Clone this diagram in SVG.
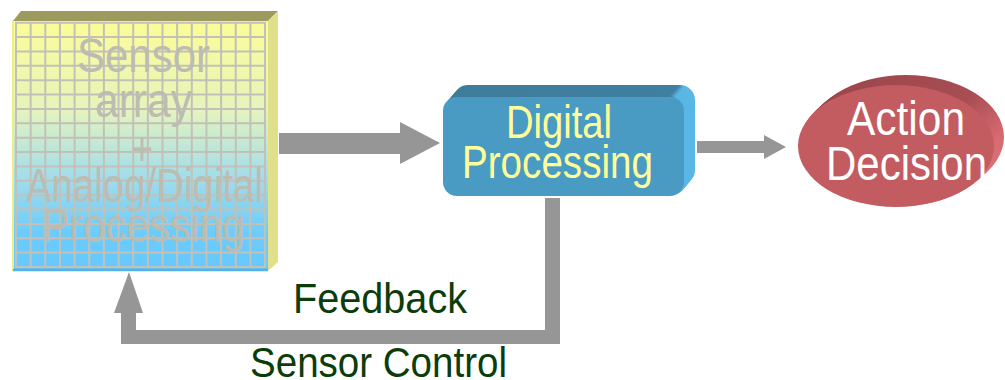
<svg xmlns="http://www.w3.org/2000/svg" width="1005" height="380" viewBox="0 0 1005 380">
<defs>
<style>
.t{font-family:"Liberation Sans",Arial,sans-serif;}
.sen{font-size:48px;fill:#bdbcb2;}
.dig{font-size:46px;fill:#ffff99;}
.act{font-size:48px;fill:#ffffff;}
.lbl{font-size:43px;fill:#0b3d0b;}
.conn{fill:#969696;}
.grid{stroke:#c2c1b8;stroke-width:2;fill:none;}
.dstack{fill:url(#dg);}
.estack{fill:url(#eg);}
</style>
<linearGradient id="sg" x1="0" y1="0" x2="0" y2="1">
<stop offset="0" stop-color="#fcfc96"/>
<stop offset="0.35" stop-color="#e6f4bc"/>
<stop offset="0.6" stop-color="#a8dfe8"/>
<stop offset="0.85" stop-color="#6ccbfa"/>
<stop offset="1" stop-color="#66c8ff"/>
</linearGradient>
<linearGradient id="dg" x1="0" y1="0" x2="1" y2="0">
<stop offset="0" stop-color="#3e7c9a"/>
<stop offset="0.93" stop-color="#3f7fa0"/>
<stop offset="0.955" stop-color="#5ab6e4"/>
<stop offset="1" stop-color="#5ab6e4"/>
</linearGradient>
<linearGradient id="eg" x1="0.2" y1="0" x2="1" y2="0.7">
<stop offset="0" stop-color="#9c464c"/>
<stop offset="0.55" stop-color="#a84e54"/>
<stop offset="0.85" stop-color="#d66a70"/>
<stop offset="1" stop-color="#dc7076"/>
</linearGradient>
</defs>

<g id="sensor-array">
<polygon points="13,21 21,11 278,11 268,21" fill="#9c9a5c"/>
<polygon points="268,21 278,11 278,262 268,271" fill="#e0e08a"/>
<rect x="13" y="21" width="255" height="250" fill="url(#sg)"/>
<path class="grid" d="M16 22V268M30.65 22V268M45.3 22V268M59.95 22V268M74.6 22V268M89.25 22V268M103.9 22V268M118.55 22V268M133.2 22V268M147.85 22V268M162.5 22V268M177.15 22V268M191.8 22V268M206.45 22V268M221.1 22V268M235.75 22V268M250.4 22V268M265 22V268M15 22.7H266M15 37.07H266M15 51.44H266M15 65.81H266M15 80.18H266M15 94.55H266M15 108.92H266M15 123.29H266M15 137.66H266M15 152.03H266M15 166.4H266M15 180.77H266M15 195.14H266M15 209.51H266M15 223.88H266M15 238.25H266M15 252.62H266M15 267H266"/>
<line x1="13" y1="21" x2="13" y2="271" stroke="#eeee88" stroke-width="2"/>
<line x1="13" y1="270" x2="268" y2="270" stroke="#5ab0e0" stroke-width="2.5"/>
<g class="t sen">
<text x="77" y="72" textLength="133" lengthAdjust="spacingAndGlyphs">Sensor</text>
<text x="95" y="117" textLength="97" lengthAdjust="spacingAndGlyphs">array</text>
<text x="131" y="165" textLength="22" lengthAdjust="spacingAndGlyphs">+</text>
<text x="26" y="202" textLength="237" lengthAdjust="spacingAndGlyphs">Analog/Digital</text>
<text x="42" y="242" textLength="203" lengthAdjust="spacingAndGlyphs">Processing</text>
</g>
</g>

<g id="digital-processing">
<rect class="dstack" x="453" y="85" width="242" height="100" rx="15"/>
<rect class="dstack" x="451" y="87.4" width="242" height="100" rx="15"/>
<rect class="dstack" x="449" y="89.8" width="242" height="100" rx="15"/>
<rect class="dstack" x="447" y="92.2" width="242" height="100" rx="15"/>
<rect class="dstack" x="445" y="94.6" width="242" height="100" rx="15"/>
<rect x="443" y="97" width="241" height="99" rx="14" fill="#4a9bc4"/>
<g class="t dig">
<text x="506" y="138" textLength="106" lengthAdjust="spacingAndGlyphs">Digital</text>
<text x="462" y="178" textLength="191" lengthAdjust="spacingAndGlyphs">Processing</text>
</g>
</g>

<g id="action-decision">
<ellipse class="estack" cx="906" cy="137" rx="98" ry="62"/>
<ellipse class="estack" cx="904" cy="138.8" rx="98" ry="62"/>
<ellipse class="estack" cx="902" cy="140.6" rx="98" ry="62"/>
<ellipse class="estack" cx="900" cy="142.4" rx="98" ry="62"/>
<ellipse class="estack" cx="898" cy="144.2" rx="98" ry="62"/>
<ellipse cx="896" cy="146" rx="98" ry="61" fill="#c25c60"/>
<g class="t act">
<text x="847" y="135" textLength="118" lengthAdjust="spacingAndGlyphs">Action</text>
<text x="826" y="180" textLength="161" lengthAdjust="spacingAndGlyphs">Decision</text>
</g>
</g>

<g id="connectors" class="conn">
<polygon points="279,133 400,133 400,122 440,143 400,164 400,154 279,154"/>
<polygon points="697,141 764,141 764,135 786,147 764,159 764,153 697,153"/>
<polygon points="545,198 560,198 560,344 121,344 121,313 114,313 129,272 143,313 136,313 136,330 545,330"/>
</g>

<g id="labels" class="t lbl">
<text x="293" y="313" textLength="174" lengthAdjust="spacingAndGlyphs">Feedback</text>
<text x="250" y="377" textLength="257" lengthAdjust="spacingAndGlyphs">Sensor Control</text>
</g>
</svg>
